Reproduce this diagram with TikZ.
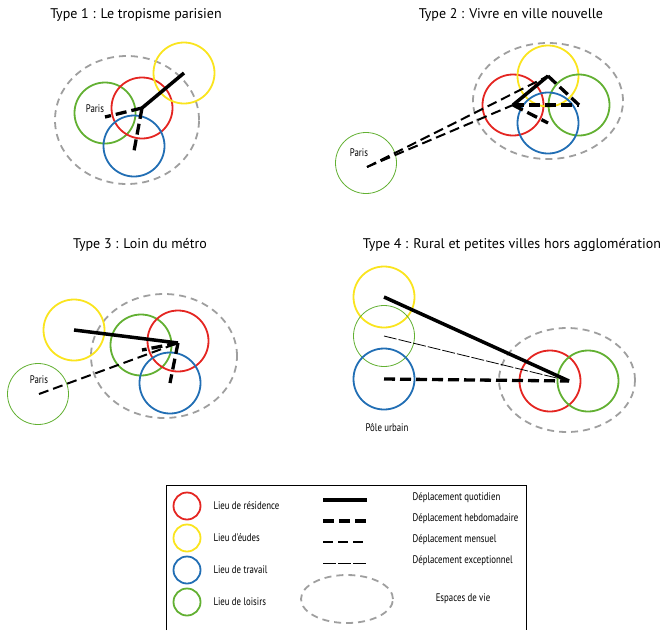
\documentclass[tikz,border=0pt]{standalone}
\usepackage{fontspec}
\setmainfont{PT Sans}
\newfontfamily\narrowfont[FakeStretch=0.8]{PT Sans}
\definecolor{cres}{RGB}{228,37,33}
\definecolor{cetu}{RGB}{250,228,30}
\definecolor{ctra}{RGB}{33,110,180}
\definecolor{clois}{RGB}{98,176,50}
\def\placesize{61pt}
\def\legsize{27pt}

\begin{document}
\begin{tikzpicture}[x=1pt,y=-1pt,
  lieu/.style={draw=#1,line width=1.8pt,circle,minimum size=\placesize,inner sep=0pt},
  ville/.style={draw=clois,line width=0.8pt,circle,minimum size=\placesize,inner sep=0pt},
  espace/.style={draw=gray!75,line width=1.8pt,dash pattern=on 7pt off 5pt},
  quot/.style={line width=3.5pt},
  hebdo/.style={line width=3.3pt,dash pattern=on 11pt off 5pt},
  mens/.style={line width=2pt,dash pattern=on 10pt off 5pt},
  excep/.style={line width=0.8pt,dash pattern=on 13pt off 2pt},
  titre/.style={font=\fontsize{14}{16}\selectfont},
  etiq/.style={font=\narrowfont\fontsize{11}{13}\selectfont}]
  \useasboundingbox (0,0) rectangle (668,630);
% Type 1
  \node[titre] (t1) at (136,15) {Type 1 : Le tropisme parisien};
  \draw[espace] (127,120) ellipse (72pt and 64pt);
  \node[lieu=clois] (lois1) at (105,113) {};
  \node[lieu=cres] (res1) at (142,108) {};
  \node[lieu=ctra] (tra1) at (134,146) {};
  \node[lieu=cetu] (etu1) at (184,73) {};
  \node[etiq] (p1) at (95,109) {Paris};
  \coordinate (paris1) at (105,117);
  \coordinate (bas1) at (134,151);
  \draw[quot] (res1.center) -- (etu1.center);
  \draw[hebdo] (res1.center) -- (paris1);
  \draw[hebdo] (res1.center) -- (bas1);
% Type 2
  \node[titre] (t2) at (511,15) {Type 2 : Vivre en ville nouvelle};
  \draw[espace] (548,101) ellipse (75pt and 58pt);
  \node[lieu=cres] (res2) at (513,105) {};
  \node[lieu=cetu] (etu2) at (548,76) {};
  \node[lieu=clois] (lois2) at (579,105) {};
  \node[lieu=ctra] (tra2) at (548,123) {};
  \node[ville] (ville2) at (366,163) {};
  \node[etiq] (p2) at (359,153) {Paris};
  \coordinate (paris2) at (367,167);
  \draw[quot] (res2.center) -- (etu2.center);
  \draw[hebdo] (etu2.center) -- (lois2.center);
  \draw[hebdo] (res2.center) -- (lois2.center);
  \draw[hebdo] (res2.center) -- (tra2.center);
  \draw[mens] (paris2) -- (etu2.center);
  \draw[mens] (paris2) -- (res2.center);
% Type 3
  \node[titre] (t3) at (140,245) {Type 3 : Loin du métro};
  \draw[espace] (164,356) ellipse (73pt and 62pt);
  \node[lieu=cetu] (etu3) at (74,330) {};
  \node[lieu=clois] (lois3) at (141,345) {};
  \node[lieu=cres] (res3) at (178,341) {};
  \node[lieu=ctra] (tra3) at (170,383) {};
  \node[ville] (ville3) at (38,394) {};
  \node[etiq] (p3) at (39,380) {Paris};
  \coordinate (paris3) at (39,394);
  \coordinate (dom3) at (178,343);
  \draw[quot] (etu3.center) -- (dom3);
  \draw[mens] (paris3) -- (dom3);
  \draw[hebdo] (dom3) -- (142,350);
  \draw[hebdo] (dom3) -- (tra3.center);
% Type 4
  \node[titre] (t4) at (512,245) {Type 4 : Rural et petites villes hors agglomération};
  \draw[espace] (567,380) ellipse (68pt and 52pt);
  \node[lieu=cetu] (etu4) at (384,297) {};
  \node[ville] (lois4) at (384,336) {};
  \node[lieu=ctra] (tra4) at (384,379) {};
  \node[lieu=cres] (res4) at (550,381) {};
  \node[lieu=clois] (loisb4) at (588,381) {};
  \node[etiq] (pole) at (387,428) {Pôle urbain};
  \coordinate (dom4) at (569,381);
  \draw[quot] (etu4.center) -- (dom4);
  \draw[hebdo] (tra4.center) -- (dom4);
  \draw[excep] (lois4.center) -- (dom4);
% legende
  \draw[line width=0.9pt] (166,630) |- (526,485) -- (526,630);
  \foreach \c/\t [count=\i] in {cres/Lieu de résidence, cetu/Lieu d'éudes,
      ctra/Lieu de travail, clois/Lieu de loisirs}
  {
    \node[lieu=\c,minimum size=\legsize] (lc\i) at (187,474+32*\i) {};
    \node[etiq,anchor=west] (lt\i) at (210,474+32*\i) {\t};
  };
  \foreach \s/\t/\y [count=\i] in {quot/Déplacement quotidien/500,
      hebdo/Déplacement hebdomadaire/521, mens/Déplacement mensuel/542,
      excep/Déplacement exceptionnel/563}
  {
    \coordinate (ld\i) at (323,\y);
    \coordinate (lf\i) at (367,\y);
    \draw[\s] (ld\i) -- (lf\i);
    \node[etiq,anchor=west] (dt\i) at (409,\y-2) {\t};
  };
  \draw[espace] (347,599) ellipse (46pt and 24pt);
  \node[etiq] (vie) at (463,599) {Espaces de vie};
\end{tikzpicture}
\end{document}
